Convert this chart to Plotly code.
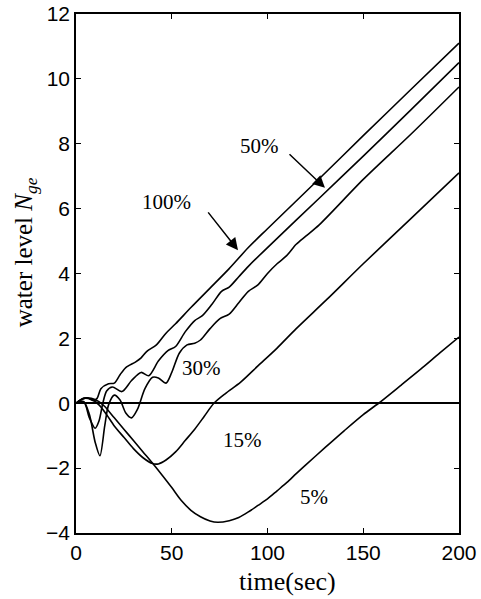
import plotly.graph_objects as go

# ---- data ----
t_100 = [0, 3, 6, 9, 11, 13, 17, 20, 23, 26, 31, 34, 37, 42, 47, 52, 60, 70, 80, 90, 100, 127, 150, 175, 200]
y_100 = [0, 0.12, 0.16, 0.08, 0.15, 0.45, 0.6, 0.62, 0.88, 1.1, 1.27, 1.4, 1.6, 1.8, 2.16, 2.45, 2.95, 3.55, 4.15, 4.8, 5.38, 6.92, 8.25, 9.68, 11.1]

t_50 = [0, 4, 7, 10, 12, 14, 16, 19, 24, 29, 34, 38, 43, 48, 52, 57, 62, 66, 71, 76, 80, 85, 90, 100, 127, 150, 175, 200]
y_50 = [0, 0.05, -0.45, -0.77, -0.55, 0.0, 0.38, 0.5, 0.36, 0.7, 0.95, 0.85, 1.3, 1.62, 1.75, 2.2, 2.55, 2.7, 3.05, 3.45, 3.58, 3.9, 4.22, 4.8, 6.32, 7.62, 9.05, 10.5]

t_30 = [0, 4, 7, 10, 12.5, 15, 17, 20, 23, 26, 29, 32, 36, 40, 43, 47, 50, 54, 58, 62, 65, 70, 75, 80, 85, 90, 95, 100, 105, 110, 115, 120, 127, 150, 175, 200]
y_30 = [0, 0.05, -0.35, -1.2, -1.62, -0.7, -0.05, 0.25, 0.1, -0.3, -0.45, -0.2, 0.45, 0.8, 0.78, 0.62, 0.95, 1.55, 1.8, 1.85, 1.95, 2.3, 2.6, 2.75, 3.1, 3.45, 3.65, 4.0, 4.3, 4.55, 4.9, 5.15, 5.5, 6.9, 8.3, 9.75]

t_15 = [0, 4, 8, 12, 16, 20, 25, 30, 35, 40, 43, 47, 52, 57, 62, 67, 72, 78, 86, 95, 105, 115, 131, 150, 175, 200]
y_15 = [0, 0.15, 0.12, -0.05, -0.35, -0.7, -1.05, -1.4, -1.68, -1.86, -1.87, -1.75, -1.5, -1.15, -0.8, -0.4, 0.0, 0.3, 0.65, 1.15, 1.7, 2.3, 3.2, 4.3, 5.7, 7.1]

t_5 = [0, 4, 8, 12, 15, 20, 25, 30, 35, 40, 45, 50, 55, 60, 65, 70, 74, 80, 85, 90, 95, 100, 105, 110, 115, 120, 130, 140, 150, 158, 170, 180, 190, 200]
y_5 = [0, 0.15, 0.15, 0.05, -0.1, -0.45, -0.8, -1.15, -1.5, -1.85, -2.22, -2.6, -3.0, -3.3, -3.5, -3.63, -3.67, -3.62, -3.52, -3.35, -3.15, -2.95, -2.7, -2.45, -2.17, -1.9, -1.37, -0.85, -0.35, 0.0, 0.57, 1.05, 1.55, 2.04]

x_ticks = [0, 50, 100, 150, 200]
y_ticks = [-4, -2, 0, 2, 4, 6, 8, 10, 12]

series = [(t_100, y_100), (t_50, y_50), (t_30, y_30), (t_15, y_15), (t_5, y_5)]

fig = go.Figure()
for tx, ty in series:
    fig.add_trace(go.Scatter(x=tx, y=ty, mode="lines",
                             line=dict(color="black", width=1.6, shape="spline", smoothing=0.8),
                             showlegend=False, hoverinfo="skip"))

serif = "Liberation Serif"
sans = "Liberation Sans"

labels = [("100%", 47.5, 6.2), ("50%", 95.6, 7.93), ("30%", 65.3, 1.08),
          ("15%", 86.7, -1.14), ("5%", 124.3, -2.9)]
for txt, lx, ly in labels:
    fig.add_annotation(x=lx, y=ly, text=txt, showarrow=False,
                       font=dict(family=serif, size=21, color="black"))

# arrows
fig.add_annotation(x=84.6, y=4.72, ax=68.4, ay=5.93, xref="x", yref="y", axref="x", ayref="y",
                   text="", showarrow=True, arrowhead=2, arrowsize=1.6, arrowwidth=1.5, arrowcolor="black")
fig.add_annotation(x=130, y=6.64, ax=110.7, ay=7.72, xref="x", yref="y", axref="x", ayref="y",
                   text="", showarrow=True, arrowhead=2, arrowsize=1.6, arrowwidth=1.5, arrowcolor="black")

# axis titles (paper coordinates)
fig.add_annotation(x=-0.133, y=0.541, xref="paper", yref="paper", xanchor="center", yanchor="middle",
                   text="water level <i>N</i><sub><i>ge</i></sub>",
                   textangle=-90, showarrow=False, font=dict(family=serif, size=25, color="black"))
fig.add_annotation(x=0.553, y=-0.094, xref="paper", yref="paper", xanchor="center", yanchor="middle",
                   text="time(sec)",
                   showarrow=False, font=dict(family=serif, size=26, color="black"))

fig.update_layout(
    width=481, height=599,
    margin=dict(l=76, r=22, t=14, b=66, autoexpand=False),
    paper_bgcolor="white", plot_bgcolor="white",
    xaxis=dict(range=[0, 200], tickvals=x_ticks, ticks="inside", ticklen=5, tickwidth=1.2,
               tickcolor="black", showline=True, linecolor="black", linewidth=1.5, mirror="ticks",
               showgrid=False, zeroline=False, automargin=False,
               tickfont=dict(family=sans, size=21, color="black")),
    yaxis=dict(range=[-4, 12], tickvals=y_ticks, ticks="inside", ticklen=5, tickwidth=1.2,
               tickcolor="black", showline=True, linecolor="black", linewidth=1.5, mirror="ticks",
               showgrid=False, zeroline=True, zerolinecolor="black", zerolinewidth=1.5, automargin=False,
               tickfont=dict(family=sans, size=21, color="black")),
)

fig.write_html("out.html", config={"displayModeBar": False},
               post_script="document.documentElement.style.margin='0';document.body.style.margin='0';"
                           "document.documentElement.style.overflow='hidden';document.body.style.overflow='hidden';")
